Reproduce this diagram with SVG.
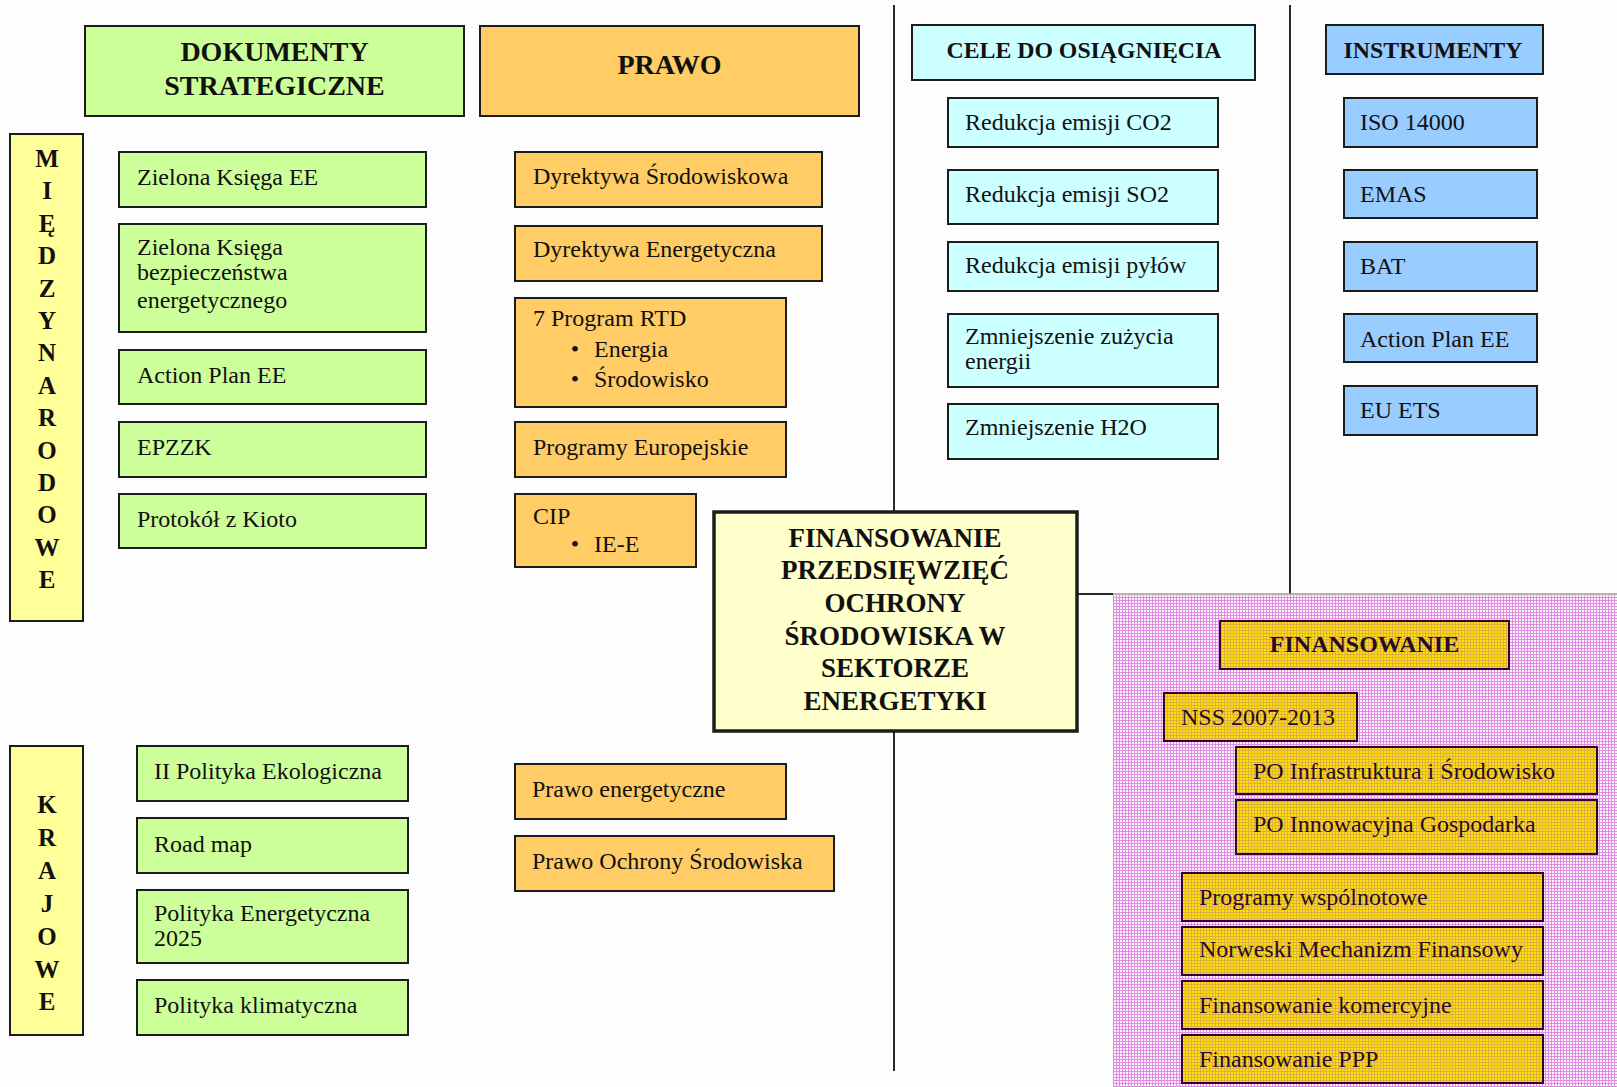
<svg xmlns="http://www.w3.org/2000/svg" width="1617" height="1087" viewBox="0 0 1617 1087">
<style>
text{font-family:"Liberation Serif","Times New Roman",serif;fill:#111}
.t{font-size:24px}
.h{font-size:28px;font-weight:bold;text-anchor:middle}
.hs{font-size:24px;font-weight:bold;text-anchor:middle}
.v{font-size:25px;font-weight:bold;text-anchor:middle}
.c{font-size:27px;font-weight:bold;text-anchor:middle}
.b{stroke:#1c1c1c;stroke-width:2}
.g{fill:#ccff99}
.o{fill:#ffcc66}
.y{fill:#ffff99}
.cy{fill:#ccffff}
.bl{fill:#99ccff}
.p{fill:url(#gold);stroke:#330033;stroke-width:2}
.pt{font-size:24px;fill:#2a0a2a}
.ln{stroke:#2a2a2a;stroke-width:2;fill:none}
</style>
<defs>
<pattern id="pink" width="3" height="3" patternUnits="userSpaceOnUse">
<rect width="3" height="3" fill="#fcf2fc"/>
<rect width="3" height="1" fill="#e08ce0"/>
<rect width="1" height="3" fill="#e08ce0"/>
</pattern>
<pattern id="gold" width="3" height="3" patternUnits="userSpaceOnUse">
<rect width="3" height="3" fill="#ffe000"/>
<rect width="3" height="1" fill="#dcb040"/>
<rect width="1" height="3" fill="#dcb040"/>
</pattern>
</defs>
<rect width="1617" height="1087" fill="#fdfdfd"/>

<g id="connectors">
<line class="ln" x1="894" y1="5" x2="894" y2="512"/>
<line class="ln" x1="894" y1="731" x2="894" y2="1071"/>
<line class="ln" x1="1290" y1="5" x2="1290" y2="594"/>
<line class="ln" x1="1077" y1="594" x2="1113" y2="594"/>
</g>

<g id="finansowanie-panel">
<rect x="1113" y="595" width="504" height="492" fill="url(#pink)"/>
<line x1="1113" y1="594" x2="1617" y2="594" stroke="#9a9a9a" stroke-width="1.5"/>
</g>

<g id="h-dokumenty"><rect class="b g" x="85" y="26" width="379" height="90"/>
<text class="h" x="274.5" y="61">DOKUMENTY</text><text class="h" x="274.5" y="95">STRATEGICZNE</text></g>
<g id="h-prawo"><rect class="b o" x="480" y="26" width="379" height="90"/>
<text class="h" x="669.5" y="74">PRAWO</text></g>
<g id="h-cele"><rect class="b cy" x="912" y="25" width="343" height="55"/>
<text class="hs" x="1084" y="58" textLength="275" lengthAdjust="spacingAndGlyphs">CELE DO OSIĄGNIĘCIA</text></g>
<g id="h-instrumenty"><rect class="b bl" x="1326" y="25" width="217" height="49"/>
<text class="hs" x="1433" y="58" textLength="179" lengthAdjust="spacingAndGlyphs">INSTRUMENTY</text></g>

<g id="miedzynarodowe"><rect class="b y" x="10" y="134" width="73" height="487"/>
<text class="v" x="47" y="167">M</text><text class="v" x="47" y="199.4">I</text><text class="v" x="47" y="231.8">Ę</text><text class="v" x="47" y="264.2">D</text><text class="v" x="47" y="296.6">Z</text><text class="v" x="47" y="329">Y</text><text class="v" x="47" y="361.4">N</text><text class="v" x="47" y="393.8">A</text><text class="v" x="47" y="426.2">R</text><text class="v" x="47" y="458.6">O</text><text class="v" x="47" y="491">D</text><text class="v" x="47" y="523.4">O</text><text class="v" x="47" y="555.8">W</text><text class="v" x="47" y="588.2">E</text></g>
<g id="krajowe"><rect class="b y" x="10" y="746" width="73" height="289"/>
<text class="v" x="47" y="813">K</text><text class="v" x="47" y="845.9">R</text><text class="v" x="47" y="878.8">A</text><text class="v" x="47" y="911.7">J</text><text class="v" x="47" y="944.6">O</text><text class="v" x="47" y="977.5">W</text><text class="v" x="47" y="1010.4">E</text></g>

<g id="zielona-ksiega-ee"><rect class="b g" x="119" y="152" width="307" height="55"/><text class="t" x="137" y="185">Zielona Księga EE</text></g>
<g id="zielona-ksiega-bezp"><rect class="b g" x="119" y="224" width="307" height="108"/><text class="t" x="137" y="255">Zielona Księga</text><text class="t" x="137" y="280">bezpieczeństwa</text><text class="t" x="137" y="308">energetycznego</text></g>
<g id="action-plan-ee-1"><rect class="b g" x="119" y="350" width="307" height="54"/><text class="t" x="137" y="383">Action Plan EE</text></g>
<g id="epzzk"><rect class="b g" x="119" y="422" width="307" height="55"/><text class="t" x="137" y="455">EPZZK</text></g>
<g id="protokol"><rect class="b g" x="119" y="494" width="307" height="54"/><text class="t" x="137" y="527">Protokół z Kioto</text></g>

<g id="ii-polityka"><rect class="b g" x="137" y="746" width="271" height="55"/><text class="t" x="154" y="779">II Polityka Ekologiczna</text></g>
<g id="road-map"><rect class="b g" x="137" y="818" width="271" height="55"/><text class="t" x="154" y="852">Road map</text></g>
<g id="polityka-energetyczna"><rect class="b g" x="137" y="890" width="271" height="73"/><text class="t" x="154" y="921">Polityka Energetyczna</text><text class="t" x="154" y="946">2025</text></g>
<g id="polityka-klimatyczna"><rect class="b g" x="137" y="980" width="271" height="55"/><text class="t" x="154" y="1013">Polityka klimatyczna</text></g>

<g id="dyrektywa-srod"><rect class="b o" x="515" y="152" width="307" height="55"/><text class="t" x="533" y="184">Dyrektywa Środowiskowa</text></g>
<g id="dyrektywa-energ"><rect class="b o" x="515" y="226" width="307" height="55"/><text class="t" x="533" y="257">Dyrektywa Energetyczna</text></g>
<g id="program-rtd"><rect class="b o" x="515" y="298" width="271" height="109"/><text class="t" x="533" y="326">7 Program RTD</text>
<text class="t" x="575" y="357" text-anchor="middle">•</text><text class="t" x="594" y="357">Energia</text>
<text class="t" x="575" y="387" text-anchor="middle">•</text><text class="t" x="594" y="387">Środowisko</text></g>
<g id="programy-europejskie"><rect class="b o" x="515" y="422" width="271" height="55"/><text class="t" x="533" y="455">Programy Europejskie</text></g>
<g id="cip"><rect class="b o" x="515" y="494" width="181" height="73"/><text class="t" x="533" y="524">CIP</text>
<text class="t" x="575" y="552" text-anchor="middle">•</text><text class="t" x="594" y="552">IE-E</text></g>
<g id="prawo-energetyczne"><rect class="b o" x="515" y="764" width="271" height="55"/><text class="t" x="532" y="797">Prawo energetyczne</text></g>
<g id="prawo-ochrony"><rect class="b o" x="515" y="836" width="319" height="55"/><text class="t" x="532" y="869">Prawo Ochrony Środowiska</text></g>

<g id="redukcja-co2"><rect class="b cy" x="948" y="98" width="270" height="49"/><text class="t" x="965" y="130">Redukcja emisji CO2</text></g>
<g id="redukcja-so2"><rect class="b cy" x="948" y="170" width="270" height="54"/><text class="t" x="965" y="202">Redukcja emisji SO2</text></g>
<g id="redukcja-pylow"><rect class="b cy" x="948" y="242" width="270" height="49"/><text class="t" x="965" y="273">Redukcja emisji pyłów</text></g>
<g id="zmniejszenie-zuzycia"><rect class="b cy" x="948" y="314" width="270" height="73"/><text class="t" x="965" y="344">Zmniejszenie zużycia</text><text class="t" x="965" y="369">energii</text></g>
<g id="zmniejszenie-h2o"><rect class="b cy" x="948" y="404" width="270" height="55"/><text class="t" x="965" y="435">Zmniejszenie H2O</text></g>

<g id="iso"><rect class="b bl" x="1344" y="98" width="193" height="49"/><text class="t" x="1360" y="130">ISO 14000</text></g>
<g id="emas"><rect class="b bl" x="1344" y="170" width="193" height="48"/><text class="t" x="1360" y="202">EMAS</text></g>
<g id="bat"><rect class="b bl" x="1344" y="242" width="193" height="49"/><text class="t" x="1360" y="274">BAT</text></g>
<g id="action-plan-ee-2"><rect class="b bl" x="1344" y="314" width="193" height="48"/><text class="t" x="1360" y="347">Action Plan EE</text></g>
<g id="eu-ets"><rect class="b bl" x="1344" y="386" width="193" height="49"/><text class="t" x="1360" y="418">EU ETS</text></g>

<g id="central"><rect x="714" y="512" width="363" height="219" fill="#ffffcc" stroke="#1c1c1c" stroke-width="3.5"/>
<text class="c" x="895" y="547">FINANSOWANIE</text><text class="c" x="895" y="579">PRZEDSIĘWZIĘĆ</text><text class="c" x="895" y="612">OCHRONY</text><text class="c" x="895" y="645">ŚRODOWISKA W</text><text class="c" x="895" y="677">SEKTORZE</text><text class="c" x="895" y="710">ENERGETYKI</text></g>

<g id="finansowanie"><rect class="p" x="1220" y="621" width="289" height="48"/><text class="hs" x="1364.5" y="652" style="fill:#2a0a2a">FINANSOWANIE</text></g>
<g id="nss"><rect class="p" x="1164" y="693" width="193" height="48"/><text class="pt" x="1181" y="725">NSS 2007-2013</text></g>
<g id="po-is"><rect class="p" x="1236" y="747" width="361" height="47"/><text class="pt" x="1253" y="779">PO Infrastruktura i Środowisko</text></g>
<g id="po-ig"><rect class="p" x="1236" y="800" width="361" height="54"/><text class="pt" x="1253" y="832">PO Innowacyjna Gospodarka</text></g>
<g id="programy-wspolnotowe"><rect class="p" x="1182" y="873" width="361" height="48"/><text class="pt" x="1199" y="905">Programy wspólnotowe</text></g>
<g id="norweski"><rect class="p" x="1182" y="927" width="361" height="48"/><text class="pt" x="1199" y="957">Norweski Mechanizm Finansowy</text></g>
<g id="fin-komercyjne"><rect class="p" x="1182" y="981" width="361" height="48"/><text class="pt" x="1199" y="1013">Finansowanie komercyjne</text></g>
<g id="fin-ppp"><rect class="p" x="1182" y="1035" width="361" height="48"/><text class="pt" x="1199" y="1067">Finansowanie PPP</text></g>
</svg>
